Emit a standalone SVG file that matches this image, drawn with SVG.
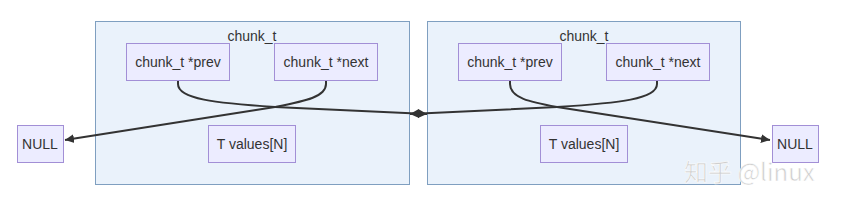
<svg xmlns="http://www.w3.org/2000/svg" width="847" height="205" viewBox="0 0 847 205">
<defs>
<style>
.cluster{fill:#eaf2fb;stroke:#7f9fc0;stroke-width:1}
.node rect{fill:#ececff;stroke:#a28fd6;stroke-width:1}
text{font-family:"Liberation Sans",Arial,sans-serif;font-size:14px;fill:#333;text-anchor:middle}
.edge{fill:none;stroke:#333;stroke-width:2}
.wm{font-family:"Noto Sans CJK SC","DejaVu Sans",sans-serif;font-size:24px;fill:#cfcfcf;stroke:#ffffff;stroke-width:0.6;text-anchor:start}
</style>
<marker id="arrow" viewBox="0 0 10 10" refX="10" refY="5" markerWidth="9" markerHeight="10" markerUnits="userSpaceOnUse" orient="auto">
<path d="M0,0 L10,5 L0,10 Z" fill="#333"/>
</marker>
</defs>
<rect width="847" height="205" fill="#ffffff"/>
<g id="cluster-left">
<rect class="cluster" x="95.5" y="21.5" width="314" height="163"/>
<text x="252" y="41">chunk_t</text>
</g>
<g id="cluster-right">
<rect class="cluster" x="427.5" y="21.5" width="313" height="163"/>
<text x="584" y="41">chunk_t</text>
</g>
<g id="connectors">
<path class="edge" d="M178,80 L178,84 C178,99 215,103 275,107 L427,114" marker-end="url(#arrow)"/>
<path class="edge" d="M326,80 L326,84 C326,97 305,101 275,107 L65,140" marker-end="url(#arrow)"/>
<path class="edge" d="M510,80 L510,84 C510,98 530,102 557,107 L770,140" marker-end="url(#arrow)"/>
<path class="edge" d="M657,80 L657,84 C657,99 620,103 557,107 L410,114" marker-end="url(#arrow)"/>
</g>
<g id="left-prev" class="node"><rect x="126.5" y="43.5" width="103" height="37"/><text x="178" y="67">chunk_t *prev</text></g>
<g id="left-next" class="node"><rect x="274.5" y="43.5" width="103" height="37"/><text x="326" y="67">chunk_t *next</text></g>
<g id="left-values" class="node"><rect x="208.5" y="125.5" width="87" height="37"/><text x="252" y="149">T values[N]</text></g>
<g id="null-left" class="node"><rect x="17.5" y="125.5" width="46" height="37"/><text x="40" y="149">NULL</text></g>
<g id="right-prev" class="node"><rect x="458.5" y="43.5" width="103" height="37"/><text x="510" y="67">chunk_t *prev</text></g>
<g id="right-next" class="node"><rect x="606.5" y="43.5" width="103" height="37"/><text x="658" y="67">chunk_t *next</text></g>
<g id="right-values" class="node"><rect x="540.5" y="125.5" width="87" height="37"/><text x="584" y="149">T values[N]</text></g>
<g id="null-right" class="node"><rect x="772.5" y="125.5" width="46" height="37"/><text x="795" y="149">NULL</text></g>
<text class="wm" x="684" y="181">知乎 @linux</text>
</svg>
